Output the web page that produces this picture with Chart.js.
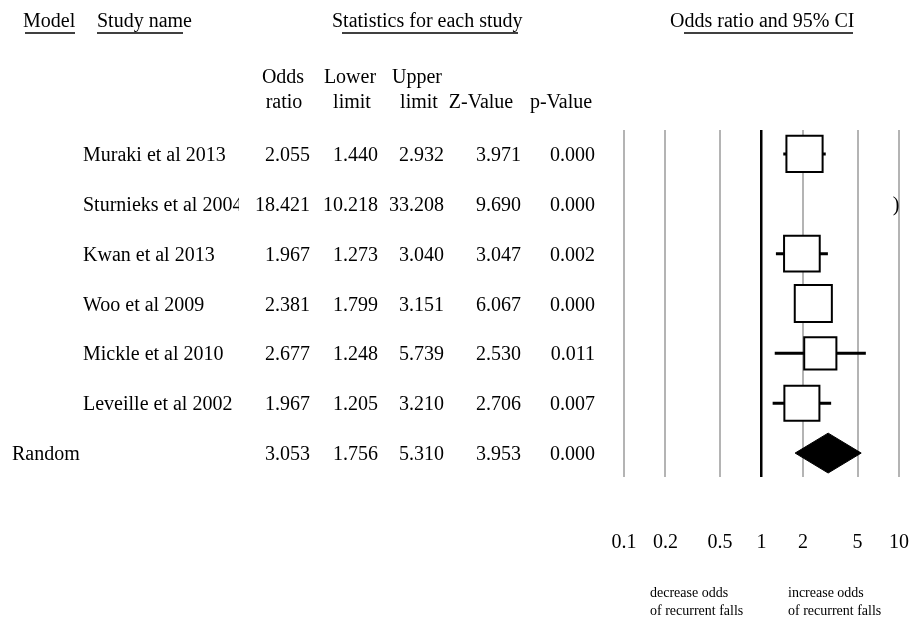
<!DOCTYPE html>
<html>
<head>
<meta charset="utf-8">
<title>Recurrent falls - forest plot</title>
<script src="https://cdn.jsdelivr.net/npm/chart.js@4.4.1/dist/chart.umd.min.js"></script>
<style>
  html, body { margin: 0; padding: 0; background: #fff; }
  #wrap { width: 912px; height: 624px; }
</style>
</head>
<body>
<div id="wrap"><canvas id="forestChart" width="912" height="624"></canvas></div>
<script>
// Study rows
const studyNames = ["Muraki et al 2013", "Sturnieks et al 2004", "Kwan et al 2013",
  "Woo et al 2009", "Mickle et al 2010", "Leveille et al 2002"];
const oddsRatio = [2.055, 18.421, 1.967, 2.381, 2.677, 1.967];
const lowerLimit = [1.440, 10.218, 1.273, 1.799, 1.248, 1.205];
const upperLimit = [2.932, 33.208, 3.040, 3.151, 5.739, 3.210];
const zValue = [3.971, 9.690, 3.047, 6.067, 2.530, 2.706];
const pValue = [0.000, 0.000, 0.002, 0.000, 0.011, 0.007];
// relative weights
const weights = [17.7, 15.2, 17.2, 18.6, 14.0, 16.6];

// Random effects summary: OR, lower, upper, Z, p
const pooledLabel = "Random";
const pooledStats = [3.053, 1.756, 5.310, 3.953, 0.000];

const tickValues = [0.1, 0.2, 0.5, 1, 2, 5, 10];

const serif = '"Liberation Serif", "Times New Roman", serif';
const pooledRow = studyNames.length;

// right edges of the number columns
const numCols = [310, 378, 444, 521, 595];

function boxSide(w) {
  return 8.6 * Math.sqrt(w);
}

// Draws the table on the left, the headers and the footer notes
const tablePlugin = {
  id: "forestTable",
  afterDraw(chart) {
    const ctx = chart.ctx;
    const xs = chart.scales.x;
    const ys = chart.scales.y;
    ctx.save();
    ctx.fillStyle = "#000";
    ctx.strokeStyle = "#000";
    ctx.textBaseline = "alphabetic";
    ctx.font = "20px " + serif;

    // top headers, underlined
    const heads = [
      ["Model", 23, 25, 75],
      ["Study name", 97, 97, 183],
      ["Statistics for each study", 332, 342, 518],
      ["Odds ratio and 95% CI", 670, 684, 853],
    ];
    ctx.textAlign = "left";
    ctx.lineWidth = 1.5;
    heads.forEach(h => {
      ctx.fillText(h[0], h[1], 27);
      ctx.beginPath();
      ctx.moveTo(h[2], 33);
      ctx.lineTo(h[3], 33);
      ctx.stroke();
    });

    // column headers
    ctx.textAlign = "center";
    const colHeads = [
      ["Odds", 283, 83], ["ratio", 284, 108],
      ["Lower", 350, 83], ["limit", 352, 108],
      ["Upper", 417, 83], ["limit", 419, 108],
      ["Z-Value", 481, 108], ["p-Value", 561, 108],
    ];
    colHeads.forEach(c => ctx.fillText(c[0], c[1], c[2]));

    // study rows
    studyNames.forEach((name, i) => {
      const y = ys.getPixelForValue(i) + 7;
      ctx.save();
      ctx.beginPath();
      ctx.rect(0, y - 30, 239, 40);
      ctx.clip();
      ctx.textAlign = "left";
      ctx.fillText(name, 83, y);
      ctx.restore();
      ctx.textAlign = "right";
      [oddsRatio[i], lowerLimit[i], upperLimit[i], zValue[i], pValue[i]].forEach((v, k) => {
        ctx.fillText(v.toFixed(3), numCols[k], y);
      });
    });

    // pooled row
    const py = ys.getPixelForValue(pooledRow) + 7;
    ctx.textAlign = "left";
    ctx.fillText(pooledLabel, 12, py);
    ctx.textAlign = "right";
    pooledStats.forEach((v, k) => ctx.fillText(v.toFixed(3), numCols[k], py));

    // out of range markers
    ctx.textAlign = "center";
    studyNames.forEach((name, i) => {
      const y = ys.getPixelForValue(i) + 7;
      if (lowerLimit[i] > xs.max) ctx.fillText(")", xs.right - 3, y);
      if (upperLimit[i] < xs.min) ctx.fillText("(", xs.left + 3, y);
    });

    // footer notes
    ctx.font = "14px " + serif;
    ctx.textAlign = "left";
    ctx.fillText("decrease odds", 650, 597);
    ctx.fillText("of recurrent falls", 650, 615);
    ctx.fillText("increase odds", 788, 597);
    ctx.fillText("of recurrent falls", 788, 615);
    ctx.restore();
  },
};

const boxData = studyNames.map((n, i) => ({ x: oddsRatio[i], y: i }));
const whiskerData = studyNames.flatMap((n, i) => [
  { x: lowerLimit[i], y: i },
  { x: upperLimit[i], y: i },
  { x: null, y: null },
]);
const diamondData = [
  { x: pooledStats[1], y: pooledRow },
  { x: pooledStats[0], y: pooledRow - 0.4 },
  { x: pooledStats[2], y: pooledRow },
  { x: pooledStats[0], y: pooledRow + 0.4 },
  { x: pooledStats[1], y: pooledRow },
];

new Chart(document.getElementById("forestChart").getContext("2d"), {
  type: "scatter",
  data: {
    datasets: [
      {
        label: "Odds ratio",
        data: boxData,
        pointStyle: "rect",
        pointRadius: c => boxSide(weights[c.dataIndex]) / Math.SQRT2,
        backgroundColor: "#fff",
        borderColor: "#000",
        borderWidth: 2,
        clip: 0,
      },
      {
        label: "95% CI",
        data: whiskerData,
        showLine: true,
        spanGaps: false,
        borderColor: "#000",
        borderWidth: 3,
        pointRadius: 0,
        clip: 0,
      },
      {
        label: pooledLabel,
        data: diamondData,
        showLine: true,
        fill: "shape",
        backgroundColor: "#000",
        borderColor: "#000",
        borderWidth: 1,
        pointRadius: 0,
        clip: 0,
      },
    ],
  },
  options: {
    responsive: false,
    animation: false,
    events: [],
    layout: {
      autoPadding: false,
      padding: { left: 624, right: 13, top: 130, bottom: 0 },
    },
    plugins: {
      legend: { display: false },
      tooltip: { enabled: false },
    },
    scales: {
      x: {
        type: "logarithmic",
        min: 0.1,
        max: 10,
        afterBuildTicks: s => { s.ticks = tickValues.map(v => ({ value: v })); },
        afterFit: s => { s.height = 147; },
        ticks: {
          autoSkip: false,
          maxRotation: 0,
          padding: 0,
          color: "#000",
          // tall line box pushes the labels down below the plot
          font: { family: serif, size: 20, lineHeight: "132px" },
          callback: v => String(v),
        },
        grid: {
          drawTicks: false,
          color: c => (c.tick && c.tick.value === 1 ? "#000" : "#b4b4b4"),
          lineWidth: c => (c.tick && c.tick.value === 1 ? 2.5 : 2),
        },
        border: { display: false },
      },
      y: {
        type: "linear",
        display: false,
        reverse: true,
        min: -0.48,
        max: 6.48,
      },
    },
  },
  plugins: [tablePlugin],
});
</script>
</body>
</html>
